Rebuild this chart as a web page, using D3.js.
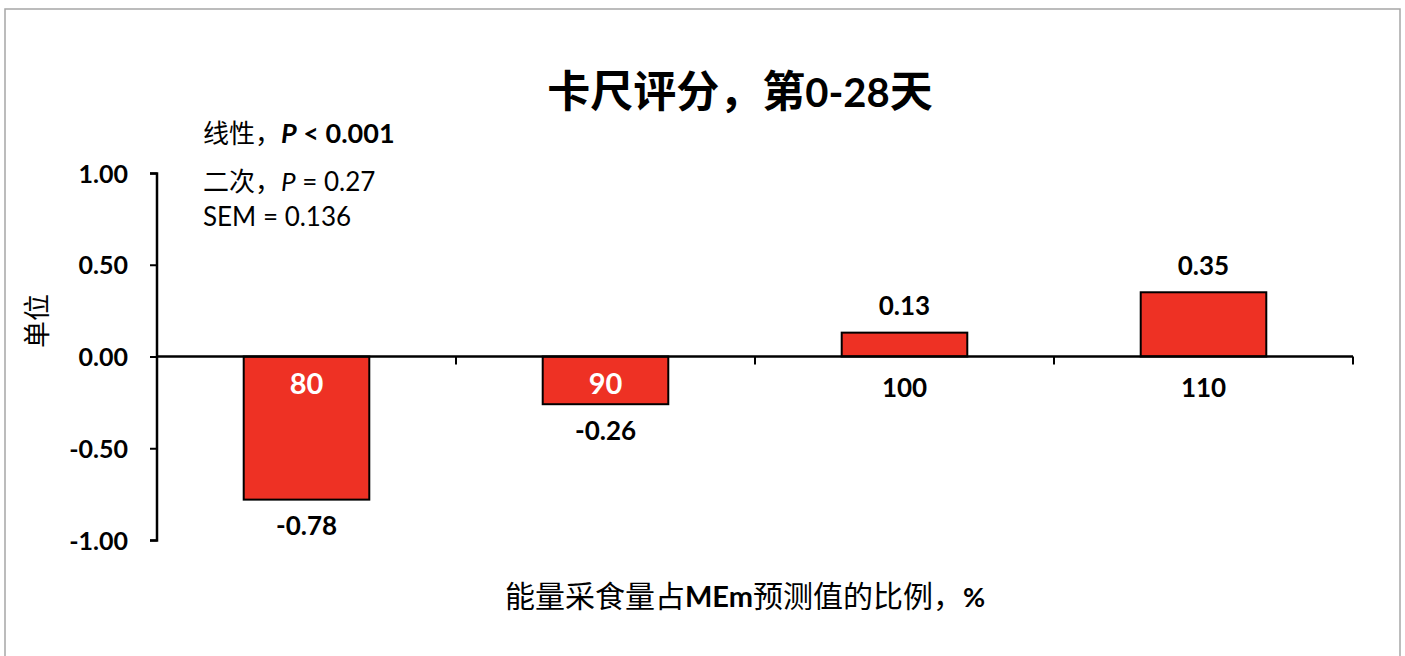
<!DOCTYPE html>
<html><head><meta charset="utf-8">
<script src="https://cdn.jsdelivr.net/npm/d3@7"></script>
<style>
html,body{margin:0;padding:0;background:#fff;}
svg{display:block;}
text{font-family:Lato,"Noto Sans CJK SC",sans-serif;fill:#000;}
</style></head>
<body>
<svg id="c" width="1405" height="656"></svg>
<script>
const categories = ["80","90","100","110"];
const values = [-0.78,-0.26,0.13,0.35];
const valueLabels = ["-0.78","-0.26","0.13","0.35"];
const yTicks = [-1.00,-0.50,0.00,0.50,1.00];
const titleParts = [["卡尺评分，第","bold",43],["0-28","bold",40],["天","bold",43]];
const xTitleParts = [["能量采食量占","normal",30],["MEm","bold",29],["预测值的比例，","normal",30],["%","bold",27]];
const yTitle = "单位";
const notes = [
  [["线性，","normal","normal",26],["P","bold","italic",27],[" < 0.001","bold","normal",27]],
  [["二次，","normal","normal",26],["P","normal","italic",26],[" = 0.27","normal","normal",26]],
  [["SEM = 0.136","normal","normal",26]]
];

const svg = d3.select("#c");
svg.append("rect").attr("x",5).attr("y",9).attr("width",1395).attr("height",700)
  .attr("fill","none").attr("stroke","#a6a6a6").attr("stroke-width",1.5);

const x = d3.scaleBand().domain(categories).range([157,1353]).paddingInner(0.58).paddingOuter(0.29);
const y = d3.scaleLinear().domain([-1,1]).range([540,173]);

const t = svg.append("text").attr("x",740).attr("y",107).attr("text-anchor","middle");
titleParts.forEach(p=>t.append("tspan").text(p[0]).attr("font-weight",p[1]).attr("font-size",p[2]));

svg.selectAll("rect.bar").data(values).enter().append("rect").attr("class","bar")
  .attr("x",(d,i)=>x(categories[i]))
  .attr("width",x.bandwidth())
  .attr("y",d=>y(Math.max(0,d)))
  .attr("height",d=>Math.abs(y(d)-y(0)))
  .attr("fill","#EE3124").attr("stroke","#000").attr("stroke-width",2);

const ya = svg.append("g").attr("transform","translate(157,0)")
  .call(d3.axisLeft(y).tickValues(yTicks).tickFormat(d=>d.toFixed(2)).tickSize(7).tickPadding(22));
ya.select(".domain").attr("stroke","#000").attr("stroke-width",2.5).attr("d","M-7,173.5H0V540.5H-7");
ya.selectAll(".tick line").attr("stroke","#000").attr("stroke-width",2);
ya.selectAll(".tick text").attr("font-size",25).attr("font-weight","bold").attr("font-family",'Lato,"Noto Sans CJK SC",sans-serif').attr("fill","#000").attr("dy","0.36em");

const xa = svg.append("g").attr("transform",`translate(0,${y(0)})`);
xa.append("line").attr("x1",157).attr("x2",1353).attr("stroke","#000").attr("stroke-width",2.5);
const step = x.step();
d3.range(categories.length+1).forEach(i=>{
  const xx = x.range()[0] + i*step;
  xa.append("line").attr("x1",xx).attr("x2",xx).attr("y1",0).attr("y2",8).attr("stroke","#000").attr("stroke-width",2);
});

svg.selectAll("text.cat").data(categories).enter().append("text").attr("class","cat")
  .attr("x",d=>x(d)+x.bandwidth()/2)
  .attr("y",(d,i)=> values[i]<0 ? y(0)+27 : y(0)+31)
  .attr("dy","0.36em").attr("text-anchor","middle")
  .attr("font-weight","bold")
  .attr("font-size",(d,i)=> values[i]<0 ? 29 : 26)
  .style("fill",(d,i)=> values[i]<0 ? "#fff" : "#000")
  .text(d=>d);

svg.selectAll("text.val").data(values).enter().append("text").attr("class","val")
  .attr("x",(d,i)=>x(categories[i])+x.bandwidth()/2)
  .attr("y",d=> d<0 ? y(d)+26 : y(d)-27)
  .attr("dy","0.36em").attr("text-anchor","middle")
  .attr("font-weight","bold").attr("font-size",26)
  .text((d,i)=>valueLabels[i]);

const noteY = [137,185,220];
notes.forEach((line,i)=>{
  const tx = svg.append("text").attr("x",203).attr("y",noteY[i]).attr("dy","0.36em");
  line.forEach(p=>tx.append("tspan").text(p[0]).attr("font-weight",p[1]).attr("font-style",p[2]).attr("font-size",p[3]));
});

svg.append("text").attr("transform","translate(47,321) rotate(-90)")
  .attr("text-anchor","middle").attr("font-size",27).text(yTitle);

const xt = svg.append("text").attr("x",745).attr("y",607).attr("text-anchor","middle");
xTitleParts.forEach(p=>xt.append("tspan").text(p[0]).attr("font-weight",p[1]).attr("font-size",p[2]));
</script>
</body></html>
